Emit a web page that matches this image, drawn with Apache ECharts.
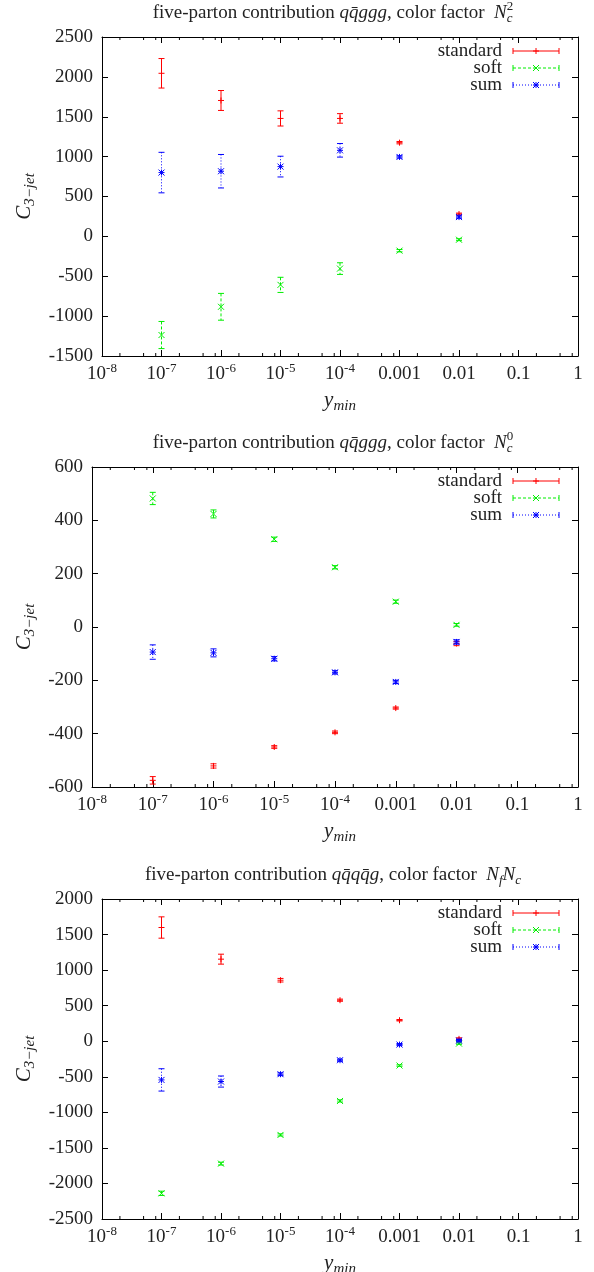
<!DOCTYPE html>
<html><head><meta charset="utf-8">
<script src="https://cdn.jsdelivr.net/npm/echarts@6.0.0/dist/echarts.min.js"></script>
<style>html,body{margin:0;padding:0;background:#fff}#c{width:594px;height:1272px}</style>
</head><body><div id="c"></div>
<script>
// ---------------- data ----------------
const Y_MIN = [1e-7, 1e-6, 1e-5, 1e-4, 1e-3, 1e-2];
const X_TICK_LABELS = ['10^-8', '10^-7', '10^-6', '10^-5', '10^-4', '0.001', '0.01', '0.1', '1'];
const SERIES_NAMES = ['standard', 'soft', 'sum'];

// panel 1: q qbar g g g, colour factor Nc^2
const P1_STANDARD = [2045, 1704, 1479, 1479, 1175, 280];
const P1_STANDARD_ERR = [185, 125, 95, 60, 15, 12];
const P1_SOFT = [-1237, -883, -608, -404, -179, -42];
const P1_SOFT_ERR = [170, 168, 95, 73, 15, 12];
const P1_SUM = [800, 817, 875, 1079, 996, 242];
const P1_SUM_ERR = [254, 210, 130, 85, 15, 15];

// panel 2: q qbar g g g, colour factor Nc^0
const P2_STANDARD = [-575, -521, -450, -395, -304, -62];
const P2_STANDARD_ERR = [14, 8, 5, 5, 4, 8];
const P2_SOFT = [482, 424, 329, 224, 95, 8];
const P2_SOFT_ERR = [23, 15, 8, 6, 6, 5];
const P2_SUM = [-94, -97, -119, -170, -206, -56];
const P2_SUM_ERR = [27, 15, 8, 6, 6, 8];

// panel 3: q qbar q qbar g, colour factor Nf Nc
const P3_STANDARD = [1599, 1154, 858, 577, 295, 33];
const P3_STANDARD_ERR = [150, 70, 25, 15, 10, 15];
const P3_SOFT = [-2139, -1721, -1318, -840, -342, -33];
const P3_SOFT_ERR = [30, 20, 15, 15, 10, 10];
const P3_SUM = [-544, -567, -464, -267, -47, 9];
const P3_SUM_ERR = [157, 78, 20, 15, 15, 15];

// y-axis ranges [min, max, interval]
const Y_RANGES = [[-1500, 2500, 500], [-600, 600, 200], [-2500, 2000, 500]];
const MINOR_MULT = [2, 5, 8];

// titles as runs of text
const TITLES = [
  [{t: 'five-parton contribution '}, {t: 'qq\u0304ggg', i: 1}, {t: ', color factor  '}, {t: 'N', i: 1}, {stack: [{t: 'c', i: 1, sub: 1}, {t: '2', sup: 1}]}],
  [{t: 'five-parton contribution '}, {t: 'qq\u0304ggg', i: 1}, {t: ', color factor  '}, {t: 'N', i: 1}, {stack: [{t: 'c', i: 1, sub: 1}, {t: '0', sup: 1}]}],
  [{t: 'five-parton contribution '}, {t: 'qq\u0304qq\u0304g', i: 1}, {t: ', color factor  '}, {t: 'N', i: 1}, {t: 'f', i: 1, sub: 1}, {t: 'N', i: 1}, {t: 'c', i: 1, sub: 1}]
];
const Y_NAME = [{t: 'C', i: 1}, {t: '3\u2212jet', i: 1, sub: 1}];
const X_NAME = [{t: 'y', i: 1}, {t: 'min', i: 1, sub: 1}];

// ---------------- layout / style ----------------
const FONT = '"Liberation Serif", "Times New Roman", serif';
const GRIDS = [
  {left: 102, top: 37, width: 476, height: 319},
  {left: 92, top: 467, width: 486, height: 320},
  {left: 102, top: 899, width: 476, height: 320}
];
const COLORS = {standard: '#ff0000', soft: '#00ee00', sum: '#0000ff'};
const DASH = {standard: null, soft: [3, 2], sum: [1, 2]};
const MARK = {standard: '+', soft: 'x', sum: '*'};

const mctx = document.createElement('canvas').getContext('2d');
function tw(text, size, italic) {
  mctx.font = (italic ? 'italic ' : '') + size + 'px ' + FONT;
  return mctx.measureText(text).width;
}

function runSize(r, base) {
  if (r.sub || r.sup) return Math.round(base * 0.7);
  return base;
}
function runEl(r, x, y, base) {
  const s = runSize(r, base);
  let dy = 0;
  if (r.sub) dy = base * 0.3;
  if (r.sup) dy = -base * 0.35;
  return {
    type: 'text', x: x, y: y + dy, silent: true,
    style: {text: r.t, fontSize: s, fontFamily: FONT, fontStyle: r.i ? 'italic' : 'normal',
      fill: '#222', align: 'left', verticalAlign: 'middle'}
  };
}
function layoutRuns(runs, base) {
  let x = 0;
  const els = [];
  runs.forEach(r => {
    if (r.stack) {
      let w = 0;
      r.stack.forEach(c => { els.push(runEl(c, x, 0, base)); w = Math.max(w, tw(c.t, runSize(c, base), c.i)); });
      x += w;
    } else {
      els.push(runEl(r, x, 0, base));
      x += tw(r.t, runSize(r, base), r.i);
    }
  });
  return {els, width: x};
}
function centeredGroup(runs, base, cx, cy, rotation) {
  const L = layoutRuns(runs, base);
  L.els.forEach(e => { e.x -= L.width / 2; });
  return {type: 'group', x: cx, y: cy, rotation: rotation || 0, children: L.els, silent: true};
}

function markerEls(kind, cx, cy, color, r) {
  const st = {stroke: color, lineWidth: 1};
  const L = (x1, y1, x2, y2) => ({type: 'line', shape: {x1, y1, x2, y2}, style: st});
  const out = [];
  if (kind === '+' || kind === '*') {
    out.push(L(cx - r, cy, cx + r, cy));
    out.push(L(cx, cy - r, cx, cy + r));
  }
  if (kind === 'x' || kind === '*') {
    out.push(L(cx - r, cy - r, cx + r, cy + r));
    out.push(L(cx - r, cy + r, cx + r, cy - r));
  }
  return out;
}

function errRenderer(name) {
  return function (params, api) {
    const x = api.value(0), y = api.value(1), e = api.value(2);
    const c = api.coord([x, y]);
    const t = api.coord([x, y + e]);
    const b = api.coord([x, y - e]);
    const color = COLORS[name];
    const st = {stroke: color, lineWidth: 1, lineDash: DASH[name]};
    const cw = 3;
    const children = [
      {type: 'line', shape: {x1: c[0], y1: t[1], x2: c[0], y2: b[1]}, style: st},
      {type: 'line', shape: {x1: c[0] - cw, y1: t[1], x2: c[0] + cw, y2: t[1]}, style: {stroke: color, lineWidth: 1}},
      {type: 'line', shape: {x1: c[0] - cw, y1: b[1], x2: c[0] + cw, y2: b[1]}, style: {stroke: color, lineWidth: 1}}
    ].concat(markerEls(MARK[name], c[0], c[1], color, 3));
    return {type: 'group', children};
  };
}

function minorRenderer(gi) {
  return function (params, api) {
    const v = api.value(0);
    const lo = api.coord([v, Y_RANGES[gi][0]]);
    const hi = api.coord([v, Y_RANGES[gi][1]]);
    const st = {stroke: '#000', lineWidth: 1};
    return {type: 'group', children: [
      {type: 'line', shape: {x1: lo[0], y1: lo[1], x2: lo[0], y2: lo[1] - 3}, style: st},
      {type: 'line', shape: {x1: hi[0], y1: hi[1], x2: hi[0], y2: hi[1] + 3}, style: st}
    ]};
  };
}

const MINOR_TICKS = [];
for (let d = -8; d < 0; d++) MINOR_MULT.forEach(m => MINOR_TICKS.push(m * Math.pow(10, d)));

const PANELS = [
  {standard: [P1_STANDARD, P1_STANDARD_ERR], soft: [P1_SOFT, P1_SOFT_ERR], sum: [P1_SUM, P1_SUM_ERR]},
  {standard: [P2_STANDARD, P2_STANDARD_ERR], soft: [P2_SOFT, P2_SOFT_ERR], sum: [P2_SUM, P2_SUM_ERR]},
  {standard: [P3_STANDARD, P3_STANDARD_ERR], soft: [P3_SOFT, P3_SOFT_ERR], sum: [P3_SUM, P3_SUM_ERR]}
];

function xLabelFmt(v) {
  const idx = Math.round(Math.log10(v)) + 8;
  const s = X_TICK_LABELS[idx];
  if (s === undefined) return '';
  if (s.indexOf('^') >= 0) {
    const p = s.split('^');
    return '{b|' + p[0] + '}{e|' + p[1] + '}';
  }
  return '{b|' + s + '}';
}

const xAxes = [], yAxes = [], series = [], graphic = [];
const axisLine = {show: true, onZero: false, lineStyle: {color: '#000', width: 1}};
GRIDS.forEach((g, gi) => {
  const xBase = {
    type: 'log', logBase: 10, min: 1e-8, max: 1, interval: 1, splitNumber: 8, gridIndex: gi,
    axisLine, splitLine: {show: false},
    axisTick: {show: true, inside: true, length: 6, lineStyle: {color: '#000'}}
  };
  xAxes.push(Object.assign({}, xBase, {
    position: 'bottom',
    axisLabel: {
      show: true, margin: 6, formatter: xLabelFmt, color: '#222',
      rich: {
        b: {fontSize: 19, fontFamily: FONT, color: '#222', lineHeight: 24},
        e: {fontSize: 13, fontFamily: FONT, color: '#222', verticalAlign: 'top', lineHeight: 13}
      }
    }
  }));
  xAxes.push(Object.assign({}, xBase, {position: 'top', axisLabel: {show: false}}));
  const yr = Y_RANGES[gi];
  const yBase = {
    type: 'value', min: yr[0], max: yr[1], interval: yr[2], gridIndex: gi,
    axisLine, splitLine: {show: false},
    axisTick: {show: true, inside: true, length: 6, lineStyle: {color: '#000'}}
  };
  yAxes.push(Object.assign({}, yBase, {
    position: 'left',
    axisLabel: {show: true, margin: 9, fontSize: 19, fontFamily: FONT, color: '#222',
      formatter: v => String(v)}
  }));
  yAxes.push(Object.assign({}, yBase, {position: 'right', axisLabel: {show: false}}));

  series.push({
    type: 'custom', xAxisIndex: gi * 2, yAxisIndex: gi * 2, silent: true,
    renderItem: minorRenderer(gi), encode: {x: 0, y: 1},
    data: MINOR_TICKS.map(v => [v, 0])
  });
  SERIES_NAMES.forEach(name => {
    const [vals, errs] = PANELS[gi][name];
    series.push({
      name, type: 'custom', xAxisIndex: gi * 2, yAxisIndex: gi * 2, silent: true,
      renderItem: errRenderer(name), encode: {x: 0, y: 1},
      data: Y_MIN.map((x, k) => [x, vals[k], errs[k]])
    });
  });

  // title
  graphic.push(centeredGroup(TITLES[gi], 19, 333, g.top - 24));
  // y-axis name (rotated)
  graphic.push(centeredGroup(Y_NAME, 21, 24, g.top + g.height / 2, Math.PI / 2));
  // x-axis name
  graphic.push(centeredGroup(X_NAME, 21, 340, g.top + g.height + 44));
  // legend
  SERIES_NAMES.forEach((name, k) => {
    const y = g.top + 14 + 17 * k;
    const color = COLORS[name];
    graphic.push({type: 'text', x: 502, y, silent: true,
      style: {text: name, fontSize: 19, fontFamily: FONT, fill: '#222', align: 'right', verticalAlign: 'middle'}});
    const kids = [
      {type: 'line', shape: {x1: 513, y1: y, x2: 559, y2: y}, style: {stroke: color, lineWidth: 1, lineDash: DASH[name]}},
      {type: 'line', shape: {x1: 513, y1: y - 3, x2: 513, y2: y + 3}, style: {stroke: color, lineWidth: 1}},
      {type: 'line', shape: {x1: 559, y1: y - 3, x2: 559, y2: y + 3}, style: {stroke: color, lineWidth: 1}}
    ].concat(markerEls(MARK[name], 536, y, color, 3));
    graphic.push({type: 'group', silent: true, children: kids});
  });
});

const chart = echarts.init(document.getElementById('c'), null, {renderer: 'canvas'});
chart.setOption({
  animation: false,
  backgroundColor: '#fff',
  grid: GRIDS.map(g => Object.assign({containLabel: false}, g)),
  xAxis: xAxes,
  yAxis: yAxes,
  series,
  graphic
});
</script>
</body></html>
